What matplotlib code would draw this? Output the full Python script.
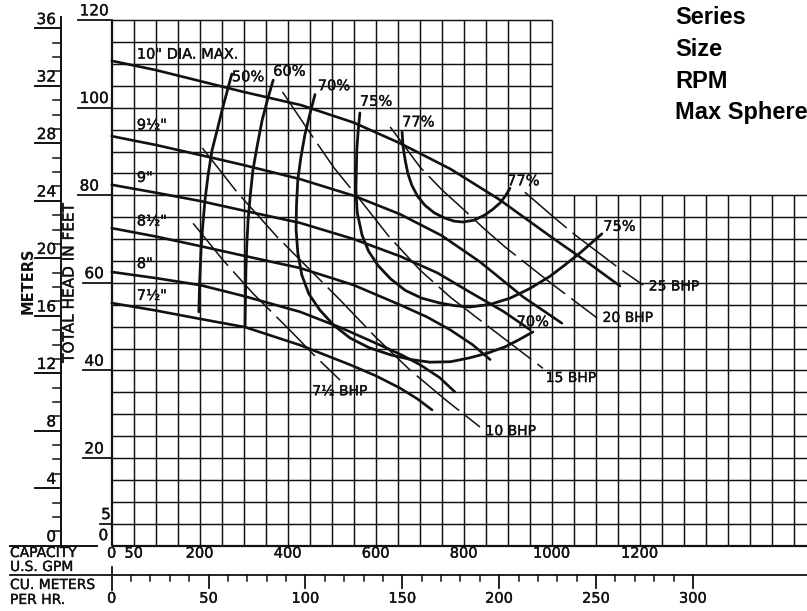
import numpy as np
import matplotlib
matplotlib.use("Agg")
import matplotlib.pyplot as plt
import matplotlib.patheffects as pe

# capacity in US gpm, total head in feet

# impeller diameter curves
q_10 = [0, 100, 200, 300, 430, 550, 655, 770, 880, 1000, 1080, 1155]
h_10 = [110.7, 108.6, 106.1, 103.6, 100.6, 96.6, 91.9, 86.0, 79.1, 70.4, 64.8, 59.3]
q_95 = [0, 100, 201, 300, 428, 550, 655, 750, 837, 935, 1023]
h_95 = [93.5, 91.5, 89.2, 86.9, 83.7, 79.9, 75.7, 70.8, 64.8, 56.8, 50.8]
q_9 = [0, 100, 201, 300, 428, 550, 655, 740, 814, 890, 951]
h_9 = [82.4, 80.6, 78.7, 76.5, 73.7, 70.0, 66.1, 62.3, 57.9, 53.5, 49.3]
q_85 = [0, 100, 201, 300, 428, 550, 655, 715, 769, 820, 860]
h_85 = [72.5, 70.6, 68.4, 66.2, 63.4, 59.5, 55.0, 52.3, 49.3, 45.9, 42.5]
q_8 = [0, 100, 201, 300, 428, 520, 610, 660, 701, 745, 780]
h_8 = [62.5, 61.1, 59.5, 57.0, 53.4, 49.8, 45.8, 43.5, 41.3, 38.4, 35.1]
q_75 = [0, 100, 200, 303, 428, 542, 600, 655, 695, 728]
h_75 = [55.4, 53.7, 51.8, 49.9, 45.8, 41.3, 38.8, 36.0, 33.5, 31.0]
dia_q = [q_10, q_95, q_9, q_85, q_8, q_75]
dia_h = [h_10, h_95, h_9, h_85, h_8, h_75]
dia_labels = ['10" DIA. MAX.', '9½"', '9"', '8½"', '8"', '7½"']

# efficiency curves
q_e50 = [273, 262, 251, 240, 228, 219, 212, 207, 203, 200, 198]
h_e50 = [107.7, 103.6, 99.5, 95.0, 90.3, 84.6, 78.9, 73.2, 67.5, 60.5, 53.4]
q_e60 = [367, 354, 342, 331, 321, 315, 310, 307, 305, 304, 303]
h_e60 = [106.3, 101.8, 97.2, 91.5, 85.8, 80.1, 74.4, 68.7, 63.0, 56.5, 49.9]
q_e70 = [462, 450, 439, 430, 423, 420, 419, 423, 432, 448, 473, 505, 542,
         585, 633, 680, 723, 770, 814, 855, 894, 925, 957]
h_e70 = [103.0, 98.4, 93.8, 88.7, 83.6, 77.9, 72.2, 66.8, 61.8, 57.5, 53.8, 50.3, 47.4,
         45.2, 43.6, 42.5, 41.9, 42.0, 42.9, 44.0, 45.4, 47.0, 48.8]
q_e75 = [564, 560, 557, 556, 555, 558, 569, 584, 605, 633, 667, 705, 746,
         780, 814, 860, 905, 950, 996, 1030, 1064, 1090, 1114]
h_e75 = [98.8, 94.5, 90.3, 85.8, 81.2, 76.0, 70.9, 67.2, 64.0, 61.0, 58.3, 56.5, 55.4,
         54.8, 54.5, 55.1, 56.5, 58.7, 61.5, 64.1, 66.8, 69.1, 71.2]
q_e77 = [660, 662, 667, 673, 682, 695, 712, 733, 757, 778, 798, 823, 848, 866, 882, 895, 905]
h_e77 = [94.4, 91.2, 88.0, 85.0, 82.3, 79.8, 77.7, 76.0, 74.8, 74.1, 73.9, 74.3, 75.5,
         76.8, 78.2, 79.9, 81.6]
eff_q = [q_e50, q_e60, q_e70, q_e75, q_e77]
eff_h = [h_e50, h_e60, h_e70, h_e75, h_e77]
eff_labels = ['50%', '60%', '70%', '75%', '77%']

# brake horsepower lines
q_b75 = [185, 253, 321, 405, 460, 519]
h_b75 = [73.6, 65.2, 57.6, 49.2, 43.5, 37.8]
q_b10 = [206, 285, 376, 519, 600, 678, 760, 837]
h_b10 = [90.8, 80.7, 70.5, 56.1, 47.6, 40.1, 33.2, 27.1]
q_b15 = [388, 451, 505, 565, 630, 701, 770, 837, 910, 980]
h_b15 = [103.6, 94.2, 86.3, 78.9, 70.6, 62.9, 56.7, 51.5, 45.9, 40.5]
q_b20 = [633, 701, 750, 796, 845, 894, 1000, 1103]
h_b20 = [95.6, 86.4, 81.3, 77.1, 72.5, 68.2, 59.8, 52.0]
q_b25 = [939, 1007, 1055, 1105, 1155, 1208]
h_b25 = [80.7, 74.8, 70.8, 67.0, 63.2, 59.5]
bhp_q = [q_b75, q_b10, q_b15, q_b20, q_b25]
bhp_h = [h_b75, h_b10, h_b15, h_b20, h_b25]
bhp_labels = ['7½ BHP', '10 BHP', '15 BHP', '20 BHP', '25 BHP']

feet_ticks = [120, 100, 80, 60, 40, 20, 5, 0]
gpm_ticks = [0, 50, 200, 400, 600, 800, 1000, 1200]
meter_ticks = [0, 4, 8, 12, 16, 20, 24, 28, 32, 36]
m3h_ticks = [0, 50, 100, 150, 200, 250, 300]
title_lines = ['Series', 'Size', 'RPM', 'Max Sphere']

FT_PER_M = 3.28084
GPM_PER_M3H = 4.40287

W, H = 807, 611
fig = plt.figure(figsize=(W / 100, H / 100), dpi=100)
ax = fig.add_axes([0, 0, 1, 1])
ax.set_xlim(-253.9, 1580.2)
ax.set_ylim(-14.91, 124.59)
ax.axis('off')

ink = '#111111'
font = 'DejaVu Sans'
pen = [pe.withStroke(linewidth=0.25, foreground=ink)]  # slightly heavier lettering pen

# grid, upper right corner left open
for q in np.arange(0, 1551, 50):
    top = 120 if q <= 1000 else 80
    ax.plot([q, q], [0, top], color=ink, lw=1.6 if q == 0 else 1.05, solid_capstyle='butt')
for h in np.arange(0, 121, 5):
    right = 1580.2 if h <= 80 else 1000
    ax.plot([0, right], [h, h], color=ink, lw=1.6 if h == 0 else 1.05, solid_capstyle='butt')

# feet scale
for f in feet_ticks:
    if f >= 80:
        x0 = -76
    elif f >= 20:
        x0 = -65
    elif f == 5:
        x0 = -27
    else:
        x0 = -33
    if f > 0:
        ax.plot([x0, 0], [f, f], color=ink, lw=1.3)
    ax.text(x0 + 3, f + 0.4 if f > 0 else 0.6, str(f), ha='left', va='bottom',
            fontsize=11, family=font, color=ink, path_effects=pen)

# meters scale
xm = -115.2
ax.plot([xm, xm], [0, 120.8], color=ink, lw=1.4)
ax.plot([-231, -33], [0, 0], color=ink, lw=1.4)
for m in range(0, 37):
    y = m * FT_PER_M
    if m in meter_ticks:
        if m > 0:
            ax.plot([-174.3, xm], [y, y], color=ink, lw=1.4)
        ax.text(-126.6, y + 0.3, str(m), ha='right', va='bottom', fontsize=11,
                family=font, color=ink, path_effects=pen)
    else:
        ax.plot([-133.4, xm], [y, y], color=ink, lw=1.1)

# capacity scales
for g in gpm_ticks:
    ax.text(g, -1.7, str(g), ha='center', va='center', fontsize=10.5, family=font,
            color=ink, path_effects=pen)
ax.plot([-231, 1580.2], [-6.69, -6.69], color=ink, lw=1.3)
for c in range(0, 301, 10):
    q = c * GPM_PER_M3H
    if c == 0:
        ax.plot([q, q], [-4.86, -10.1], color=ink, lw=1.3)
    elif c in m3h_ticks:
        ax.plot([q, q], [-6.69, -9.68], color=ink, lw=1.3)
    else:
        ax.plot([q, q], [-6.69, -8.06], color=ink, lw=1.1)
for c in m3h_ticks:
    ax.text(c * GPM_PER_M3H, -12.0, str(c), ha='center', va='center', fontsize=10.5,
            family=font, color=ink, path_effects=pen)

# head curves
for q, h, lab in zip(dia_q, dia_h, dia_labels):
    ax.plot(q, h, color=ink, lw=1.9, solid_capstyle='round', solid_joinstyle='round')
    yl = np.interp(57, q, h)
    ax.text(57, yl + (2.0 if lab == '9½"' else 1.0), lab, ha='left', va='bottom',
            fontsize=10.5, family=font, color=ink, path_effects=pen)

# efficiency curves
for q, h in zip(eff_q, eff_h):
    ax.plot(q, h, color=ink, lw=2.0, solid_capstyle='round', solid_joinstyle='round')
eff_tops = [(0, -2, 'left', 'center'), (0, 1, 'left', 'bottom'), (2, 1, 'left', 'bottom'),
            (0, 3, 'left', 'bottom'), (0, 2, 'left', 'bottom')]
for q, h, lab, (dx, dy, ha, va) in zip(eff_q, eff_h, eff_labels, eff_tops):
    ax.annotate(lab, (q[0], h[0]), xytext=(dx, dy), textcoords='offset points',
                ha=ha, va=va, fontsize=10.5, family=font, color=ink, path_effects=pen)
# labels at the right hand ends of the loops
for q, h, lab, (dx, dy, ha) in zip([q_e70, q_e75, q_e77], [h_e70, h_e75, h_e77],
                                   ['70%', '75%', '77%'],
                                   [(0, 2, 'center'), (1, 0, 'left'), (-2, 0, 'left')]):
    ax.annotate(lab, (q[-1], h[-1]), xytext=(dx, dy), textcoords='offset points',
                ha=ha, va='bottom', fontsize=10.5, family=font, color=ink, path_effects=pen)

# bhp lines
bhp_off = [(-20, -8), (4, -3), (2, -7), (4, 0), (4, -1)]
for q, h, lab, (dx, dy) in zip(bhp_q, bhp_h, bhp_labels, bhp_off):
    ax.plot(q, h, color=ink, lw=1.1, linestyle=(0, (36, 5)))
    ax.annotate(lab, (q[-1], h[-1]), xytext=(dx, dy), textcoords='offset points',
                ha='left', va='center', fontsize=10, family=font, color=ink, path_effects=pen)

# axis names
def fxy(x, y):
    return x / W, 1 - y / H

fig.text(*fxy(28, 281), 'METERS', rotation=90, ha='center', va='center',
         fontsize=10.5, family=font, weight='bold', color=ink)
fig.text(*fxy(69, 283), 'TOTAL HEAD IN FEET', rotation=90, ha='center', va='center',
         fontsize=11, family=font, color=ink, path_effects=pen)
for txt, y in zip(['CAPACITY', 'U.S. GPM', 'CU. METERS', 'PER HR.'], [553, 567, 585, 600]):
    fig.text(*fxy(10, y), txt, ha='left', va='center', fontsize=10, family=font,
             color=ink, path_effects=pen)

# title block
for txt, y in zip(title_lines, [18, 50, 81, 112]):
    fig.text(*fxy(675, y), txt, ha='left', va='center', fontsize=17, weight='bold',
             family=['Liberation Sans Narrow', 'Liberation Sans'], color='black')

fig.savefig('out.png', dpi=100)
